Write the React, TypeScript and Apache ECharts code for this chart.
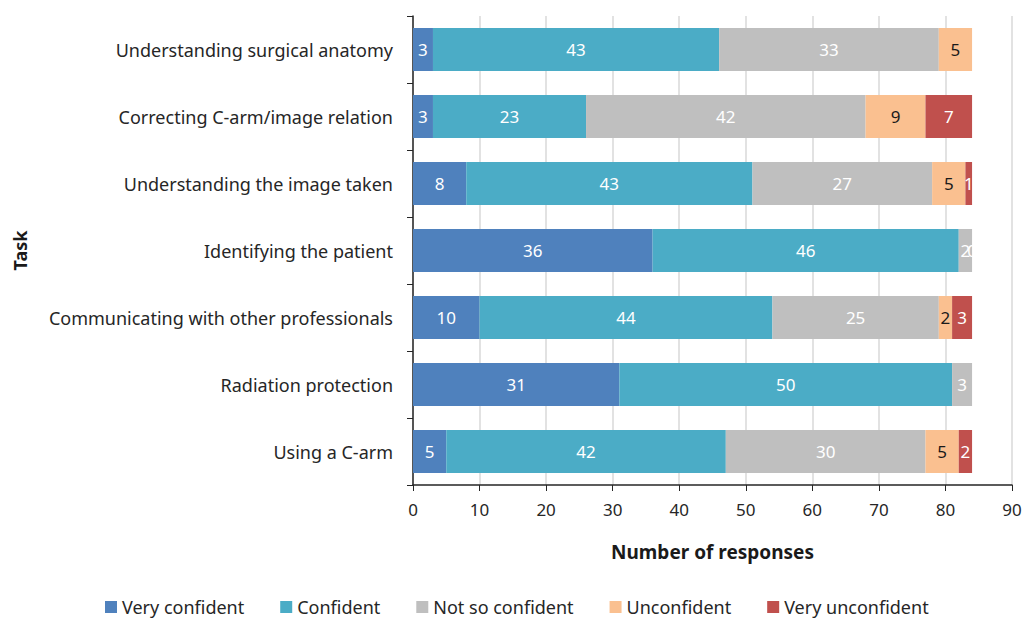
import React, { useEffect, useRef } from "react";
import * as echarts from "echarts";

const categories = [
  "Understanding surgical anatomy",
  "Correcting C-arm/image relation",
  "Understanding the image taken",
  "Identifying the patient",
  "Communicating with other professionals",
  "Radiation protection",
  "Using a C-arm",
];
const seriesNames = ["Very confident", "Confident", "Not so confident", "Unconfident", "Very unconfident"];
const veryConfident = [3, 3, 8, 36, 10, 31, 5];
const confident = [43, 23, 43, 46, 44, 50, 42];
const notSoConfident = [33, 42, 27, 2, 25, 3, 30];
const unconfident: (number | string)[] = [5, 9, 5, "-", 2, "-", 5];
const veryUnconfident: (number | string)[] = ["-", 7, 1, 0, 3, "-", 2];
const xTicks = { min: 0, max: 90, interval: 10 };

const colors = ["#4F81BD", "#4BACC6", "#BFBFBF", "#FAC090", "#C0504D"];
const labelColors = ["#FFFFFF", "#FFFFFF", "#FFFFFF", "#1a1a1a", "#FFFFFF"];
const FONT = "Noto Sans";

export default function App() {
  const ref = useRef<HTMLDivElement>(null);
  useEffect(() => {
    const chart = echarts.init(ref.current!, null, { renderer: "svg" });
    const data = [veryConfident, confident, notSoConfident, unconfident, veryUnconfident];
    chart.setOption({
      animation: false,
      textStyle: { fontFamily: FONT },
      grid: { left: 413, right: 13, top: 16, bottom: 134 },
      legend: {
        bottom: -2,
        left: 100,
        itemWidth: 12,
        itemHeight: 12,
        itemGap: 36,
        icon: "rect",
        textStyle: { fontSize: 18, color: "#262626", fontFamily: FONT },
        data: seriesNames,
      },
      xAxis: {
        type: "value",
        min: xTicks.min,
        max: xTicks.max,
        interval: xTicks.interval,
        name: "Number of responses",
        nameLocation: "middle",
        nameGap: 57,
        nameTextStyle: { fontSize: 19, fontWeight: "bold", color: "#1a1a1a", fontFamily: FONT },
        axisLine: { show: true, lineStyle: { color: "#262626", width: 1.5 } },
        axisTick: { show: true, length: 6, lineStyle: { color: "#262626" } },
        axisLabel: { fontSize: 17, color: "#262626", margin: 16 },
        splitLine: { show: true, lineStyle: { color: "#D9D9D9", width: 1.5 } },
      },
      yAxis: {
        type: "category",
        data: categories,
        inverse: true,
        name: "Task",
        nameLocation: "middle",
        nameGap: 384,
        nameRotate: 90,
        nameTextStyle: { fontSize: 18, fontWeight: "bold", color: "#1a1a1a", fontFamily: FONT },
        axisLine: { show: true, lineStyle: { color: "#262626", width: 1.5 } },
        axisTick: { show: true, length: 6, lineStyle: { color: "#262626" } },
        axisLabel: { fontSize: 18, color: "#262626", margin: 20 },
      },
      series: seriesNames.map((name, i) => ({
        name,
        type: "bar",
        stack: "total",
        barWidth: 43,
        itemStyle: { color: colors[i] },
        label: {
          show: true,
          position: "inside",
          color: labelColors[i],
          fontSize: 17,
          fontFamily: FONT,
        },
        data: data[i],
      })),
    });
    return () => chart.dispose();
  }, []);
  return <div ref={ref} style={{ width: 1025, height: 619, position: "absolute", left: 0, top: 0 }} />;
}
